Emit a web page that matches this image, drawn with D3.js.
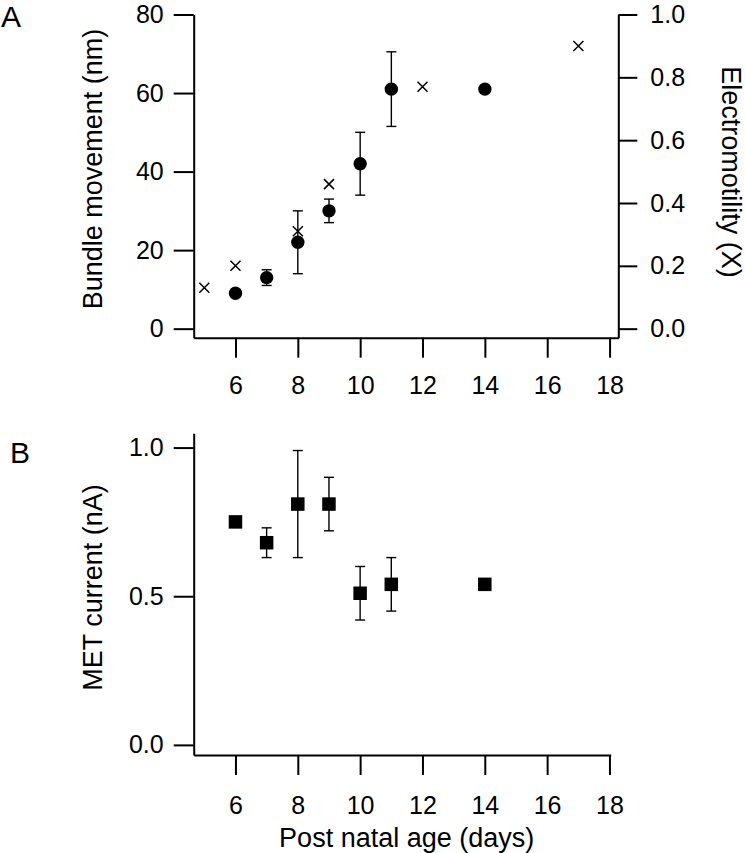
<!DOCTYPE html>
<html>
<head>
<meta charset="utf-8">
<script src="https://cdn.jsdelivr.net/npm/d3@7"></script>
<style>
  html, body { margin: 0; padding: 0; background: #fff; }
  svg { display: block; }
  text { font-family: "Liberation Sans", Arial, Helvetica, sans-serif; fill: #000; }
</style>
</head>
<body>
<svg id="chart" width="745" height="853"></svg>
<script>
// ---- Data ----
const daysBundle = [6, 7, 8, 9, 10, 11, 14];
const bundleMovement = [9, 13, 22, 30, 42, 61, 61];          // nm
const bundleErr = [0, 2, 8, 3, 8, 9.5, 0];

const daysElectro = [5, 6, 8, 9, 12, 17];
const electromotility = [0.13, 0.20, 0.31, 0.46, 0.77, 0.90]; // X

const daysMet = [6, 7, 8, 9, 10, 11, 14];
const metCurrent = [0.75, 0.68, 0.81, 0.81, 0.51, 0.54, 0.54]; // nA
const metErr = [0, 0.05, 0.18, 0.09, 0.09, 0.09, 0];

const xTicks = [6, 8, 10, 12, 14, 16, 18];
const bundleTicks = [0, 20, 40, 60, 80];
const electroTicks = [0, 0.2, 0.4, 0.6, 0.8, 1.0];
const metTicks = [0, 0.5, 1.0];

// ---- Setup ----
const svg = d3.select("#chart");
const tickFont = "25px";
const titleFont = "27px";

function styleAxis(g) {
  g.selectAll("path.domain").attr("stroke", "#000").attr("stroke-width", 2);
  g.selectAll(".tick line").attr("stroke", "#000").attr("stroke-width", 2);
  g.selectAll(".tick text").style("font-size", tickFont)
    .style("font-family", '"Liberation Sans", Arial, sans-serif').attr("fill", "#000");
}

// ===== Panel A =====
const xA = d3.scaleLinear().domain([4.66, 18.28]).range([193.7, 618.3]);
const yA = d3.scaleLinear().domain([-2.3, 80]).range([337.7, 14.5]);
const yA2 = d3.scaleLinear().domain([-2.3 / 80, 1.0]).range([337.7, 14.5]);

const gA = svg.append("g");

// left axis line (starts at 80 tick)
gA.append("g").attr("transform", "translate(193.7,0)")
  .call(d3.axisLeft(yA).tickValues(bundleTicks).tickSize(20).tickSizeOuter(0).tickPadding(10))
  .call(styleAxis);

gA.append("g").attr("transform", "translate(618.3,0)")
  .call(d3.axisRight(yA2).tickValues(electroTicks).tickSize(19).tickSizeOuter(0).tickPadding(13)
    .tickFormat(d3.format(".1f")))
  .call(styleAxis);

gA.append("g").attr("transform", "translate(0,337.7)")
  .call(d3.axisBottom(xA).tickValues(xTicks).tickSize(20).tickSizeOuter(0).tickPadding(19)
    .tickFormat(d3.format("d")))
  .call(styleAxis);

// error bars A
const errA = gA.append("g").attr("stroke", "#000").attr("stroke-width", 1.4);
daysBundle.forEach((d, i) => {
  if (bundleErr[i] > 0) {
    const x = xA(d), y1 = yA(bundleMovement[i] - bundleErr[i]), y2 = yA(bundleMovement[i] + bundleErr[i]);
    errA.append("line").attr("x1", x).attr("x2", x).attr("y1", y1).attr("y2", y2);
    errA.append("line").attr("x1", x - 5).attr("x2", x + 5).attr("y1", y1).attr("y2", y1);
    errA.append("line").attr("x1", x - 5).attr("x2", x + 5).attr("y1", y2).attr("y2", y2);
  }
});

// crosses (electromotility)
const crossSize = 5;
gA.append("g").selectAll("path.cross")
  .data(daysElectro.map((d, i) => ({ d, v: electromotility[i] })))
  .join("path")
  .attr("d", p => {
    const x = xA(p.d), y = yA2(p.v), s = crossSize;
    return `M${x - s},${y - s}L${x + s},${y + s}M${x - s},${y + s}L${x + s},${y - s}`;
  })
  .attr("stroke", "#000").attr("stroke-width", 1.5).attr("fill", "none");

// circles (bundle movement)
gA.append("g").selectAll("circle")
  .data(daysBundle.map((d, i) => ({ d, v: bundleMovement[i] })))
  .join("circle")
  .attr("cx", p => xA(p.d)).attr("cy", p => yA(p.v)).attr("r", 6.7).attr("fill", "#000");

// titles A
svg.append("text").attr("transform", "translate(102,169) rotate(-90)")
  .attr("text-anchor", "middle").style("font-size", titleFont).text("Bundle movement (nm)");
svg.append("text").attr("transform", "translate(722,172) rotate(90)")
  .attr("text-anchor", "middle").style("font-size", titleFont).text("Electromotility (X)");
svg.append("text").attr("x", 1).attr("y", 27).style("font-size", "30px").text("A");

// ===== Panel B =====
const xB = d3.scaleLinear().domain([4.66, 18.04]).range([193.7, 610.7]);
const yB = d3.scaleLinear().domain([-0.034, 1.048]).range([755, 433.3]);

const gB = svg.append("g");
gB.append("g").attr("transform", "translate(193.7,0)")
  .call(d3.axisLeft(yB).tickValues(metTicks).tickSize(20).tickSizeOuter(0).tickPadding(10)
    .tickFormat(d3.format(".1f")))
  .call(styleAxis);
gB.append("g").attr("transform", "translate(0,755)")
  .call(d3.axisBottom(xB).tickValues(xTicks).tickSize(20).tickSizeOuter(0).tickPadding(21)
    .tickFormat(d3.format("d")))
  .call(styleAxis);

const errB = gB.append("g").attr("stroke", "#000").attr("stroke-width", 1.4);
daysMet.forEach((d, i) => {
  if (metErr[i] > 0) {
    const x = xB(d), y1 = yB(metCurrent[i] - metErr[i]), y2 = yB(metCurrent[i] + metErr[i]);
    errB.append("line").attr("x1", x).attr("x2", x).attr("y1", y1).attr("y2", y2);
    errB.append("line").attr("x1", x - 5).attr("x2", x + 5).attr("y1", y1).attr("y2", y1);
    errB.append("line").attr("x1", x - 5).attr("x2", x + 5).attr("y1", y2).attr("y2", y2);
  }
});

const sq = 13.5;
gB.append("g").selectAll("rect")
  .data(daysMet.map((d, i) => ({ d, v: metCurrent[i] })))
  .join("rect")
  .attr("x", p => xB(p.d) - sq / 2).attr("y", p => yB(p.v) - sq / 2)
  .attr("width", sq).attr("height", sq).attr("fill", "#000");

svg.append("text").attr("transform", "translate(102,587.5) rotate(-90)")
  .attr("text-anchor", "middle").style("font-size", titleFont).text("MET current (nA)");
svg.append("text").attr("x", 406.7).attr("y", 847)
  .attr("text-anchor", "middle").style("font-size", titleFont).text("Post natal age (days)");
svg.append("text").attr("x", 10).attr("y", 463).style("font-size", "30px").text("B");
</script>
</body>
</html>
